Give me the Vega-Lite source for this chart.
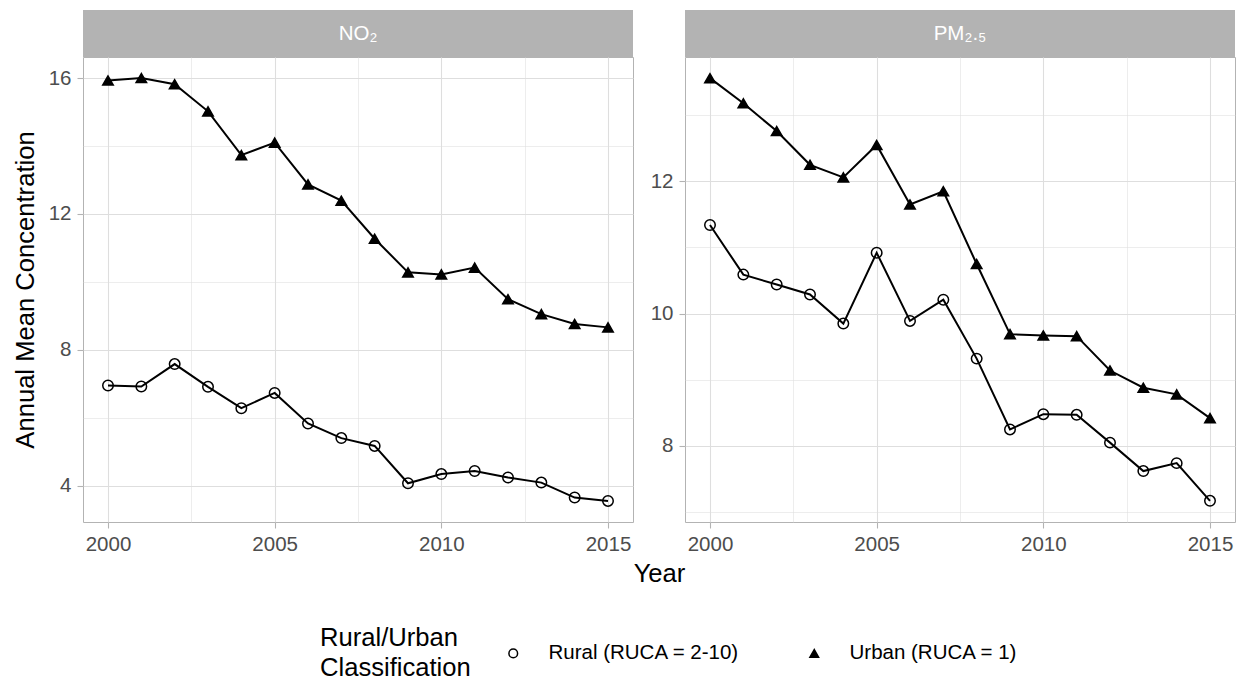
{
  "$schema": "https://vega.github.io/schema/vega-lite/v6.json",
  "background": "white",
  "padding": {"left": 12, "top": 10, "right": 5, "bottom": 5},
  "config": {
    "font": "Liberation Sans",
    "view": {"stroke": "#b3b3b3", "strokeWidth": 1},
    "axis": {
      "labelFont": "Liberation Sans",
      "labelFontSize": 20.5,
      "labelColor": "#4d4d4d",
      "titleFont": "Liberation Sans",
      "titleFontSize": 25.6,
      "titleColor": "black",
      "titleFontWeight": "normal",
      "domain": false,
      "tickColor": "#b3b3b3",
      "tickSize": 6,
      "tickWidth": 1.1,
      "gridColor": "#dedede",
      "labelPadding": 6
    },
    "legend": {
      "titleFont": "Liberation Sans",
      "labelFont": "Liberation Sans",
      "titleFontSize": 25.6,
      "titleFontWeight": "normal",
      "titleColor": "black",
      "labelFontSize": 20.5,
      "labelColor": "black",
      "labelLimit": 0,
      "titleOrient": "left",
      "direction": "horizontal",
      "symbolStrokeWidth": 1.5,
      "symbolSize": 75,
      "columnPadding": 64,
      "titlePadding": 32,
      "labelOffset": 25,
      "titleLineHeight": 30
    }
  },
  "datasets": {
    "aq": [
      {"pollutant": "NO2", "year": 2000, "group": "Urban (RUCA = 1)", "value": 15.93},
      {"pollutant": "NO2", "year": 2001, "group": "Urban (RUCA = 1)", "value": 16.0},
      {"pollutant": "NO2", "year": 2002, "group": "Urban (RUCA = 1)", "value": 15.82},
      {"pollutant": "NO2", "year": 2003, "group": "Urban (RUCA = 1)", "value": 15.02},
      {"pollutant": "NO2", "year": 2004, "group": "Urban (RUCA = 1)", "value": 13.73},
      {"pollutant": "NO2", "year": 2005, "group": "Urban (RUCA = 1)", "value": 14.1},
      {"pollutant": "NO2", "year": 2006, "group": "Urban (RUCA = 1)", "value": 12.87},
      {"pollutant": "NO2", "year": 2007, "group": "Urban (RUCA = 1)", "value": 12.39},
      {"pollutant": "NO2", "year": 2008, "group": "Urban (RUCA = 1)", "value": 11.27},
      {"pollutant": "NO2", "year": 2009, "group": "Urban (RUCA = 1)", "value": 10.28},
      {"pollutant": "NO2", "year": 2010, "group": "Urban (RUCA = 1)", "value": 10.22},
      {"pollutant": "NO2", "year": 2011, "group": "Urban (RUCA = 1)", "value": 10.42},
      {"pollutant": "NO2", "year": 2012, "group": "Urban (RUCA = 1)", "value": 9.49},
      {"pollutant": "NO2", "year": 2013, "group": "Urban (RUCA = 1)", "value": 9.05},
      {"pollutant": "NO2", "year": 2014, "group": "Urban (RUCA = 1)", "value": 8.76},
      {"pollutant": "NO2", "year": 2015, "group": "Urban (RUCA = 1)", "value": 8.66},
      {"pollutant": "NO2", "year": 2000, "group": "Rural (RUCA = 2-10)", "value": 6.95},
      {"pollutant": "NO2", "year": 2001, "group": "Rural (RUCA = 2-10)", "value": 6.92},
      {"pollutant": "NO2", "year": 2002, "group": "Rural (RUCA = 2-10)", "value": 7.58},
      {"pollutant": "NO2", "year": 2003, "group": "Rural (RUCA = 2-10)", "value": 6.91},
      {"pollutant": "NO2", "year": 2004, "group": "Rural (RUCA = 2-10)", "value": 6.28},
      {"pollutant": "NO2", "year": 2005, "group": "Rural (RUCA = 2-10)", "value": 6.73},
      {"pollutant": "NO2", "year": 2006, "group": "Rural (RUCA = 2-10)", "value": 5.83},
      {"pollutant": "NO2", "year": 2007, "group": "Rural (RUCA = 2-10)", "value": 5.4},
      {"pollutant": "NO2", "year": 2008, "group": "Rural (RUCA = 2-10)", "value": 5.17},
      {"pollutant": "NO2", "year": 2009, "group": "Rural (RUCA = 2-10)", "value": 4.07},
      {"pollutant": "NO2", "year": 2010, "group": "Rural (RUCA = 2-10)", "value": 4.34},
      {"pollutant": "NO2", "year": 2011, "group": "Rural (RUCA = 2-10)", "value": 4.43},
      {"pollutant": "NO2", "year": 2012, "group": "Rural (RUCA = 2-10)", "value": 4.24},
      {"pollutant": "NO2", "year": 2013, "group": "Rural (RUCA = 2-10)", "value": 4.09},
      {"pollutant": "NO2", "year": 2014, "group": "Rural (RUCA = 2-10)", "value": 3.65},
      {"pollutant": "NO2", "year": 2015, "group": "Rural (RUCA = 2-10)", "value": 3.55},
      {"pollutant": "PM2.5", "year": 2000, "group": "Urban (RUCA = 1)", "value": 13.56},
      {"pollutant": "PM2.5", "year": 2001, "group": "Urban (RUCA = 1)", "value": 13.18},
      {"pollutant": "PM2.5", "year": 2002, "group": "Urban (RUCA = 1)", "value": 12.76},
      {"pollutant": "PM2.5", "year": 2003, "group": "Urban (RUCA = 1)", "value": 12.25},
      {"pollutant": "PM2.5", "year": 2004, "group": "Urban (RUCA = 1)", "value": 12.06},
      {"pollutant": "PM2.5", "year": 2005, "group": "Urban (RUCA = 1)", "value": 12.55},
      {"pollutant": "PM2.5", "year": 2006, "group": "Urban (RUCA = 1)", "value": 11.65},
      {"pollutant": "PM2.5", "year": 2007, "group": "Urban (RUCA = 1)", "value": 11.85},
      {"pollutant": "PM2.5", "year": 2008, "group": "Urban (RUCA = 1)", "value": 10.75},
      {"pollutant": "PM2.5", "year": 2009, "group": "Urban (RUCA = 1)", "value": 9.69},
      {"pollutant": "PM2.5", "year": 2010, "group": "Urban (RUCA = 1)", "value": 9.67},
      {"pollutant": "PM2.5", "year": 2011, "group": "Urban (RUCA = 1)", "value": 9.66},
      {"pollutant": "PM2.5", "year": 2012, "group": "Urban (RUCA = 1)", "value": 9.14},
      {"pollutant": "PM2.5", "year": 2013, "group": "Urban (RUCA = 1)", "value": 8.88},
      {"pollutant": "PM2.5", "year": 2014, "group": "Urban (RUCA = 1)", "value": 8.78},
      {"pollutant": "PM2.5", "year": 2015, "group": "Urban (RUCA = 1)", "value": 8.42},
      {"pollutant": "PM2.5", "year": 2000, "group": "Rural (RUCA = 2-10)", "value": 11.34},
      {"pollutant": "PM2.5", "year": 2001, "group": "Rural (RUCA = 2-10)", "value": 10.59},
      {"pollutant": "PM2.5", "year": 2002, "group": "Rural (RUCA = 2-10)", "value": 10.44},
      {"pollutant": "PM2.5", "year": 2003, "group": "Rural (RUCA = 2-10)", "value": 10.29},
      {"pollutant": "PM2.5", "year": 2004, "group": "Rural (RUCA = 2-10)", "value": 9.85},
      {"pollutant": "PM2.5", "year": 2005, "group": "Rural (RUCA = 2-10)", "value": 10.92},
      {"pollutant": "PM2.5", "year": 2006, "group": "Rural (RUCA = 2-10)", "value": 9.89},
      {"pollutant": "PM2.5", "year": 2007, "group": "Rural (RUCA = 2-10)", "value": 10.21},
      {"pollutant": "PM2.5", "year": 2008, "group": "Rural (RUCA = 2-10)", "value": 9.32},
      {"pollutant": "PM2.5", "year": 2009, "group": "Rural (RUCA = 2-10)", "value": 8.25},
      {"pollutant": "PM2.5", "year": 2010, "group": "Rural (RUCA = 2-10)", "value": 8.48},
      {"pollutant": "PM2.5", "year": 2011, "group": "Rural (RUCA = 2-10)", "value": 8.47},
      {"pollutant": "PM2.5", "year": 2012, "group": "Rural (RUCA = 2-10)", "value": 8.05},
      {"pollutant": "PM2.5", "year": 2013, "group": "Rural (RUCA = 2-10)", "value": 7.62},
      {"pollutant": "PM2.5", "year": 2014, "group": "Rural (RUCA = 2-10)", "value": 7.74},
      {"pollutant": "PM2.5", "year": 2015, "group": "Rural (RUCA = 2-10)", "value": 7.17}
    ]
  },
  "columns": 2,
  "bounds": "flush",
  "spacing": {"row": 0, "column": 52},
  "resolve": {"scale": {"x": "independent", "y": "independent"}},
  "concat": [
    {
      "width": 550,
      "height": 47,
      "view": {"fill": "#b3b3b3", "stroke": null},
      "data": {"values": [{"label": "NO₂"}]},
      "mark": {"type": "text", "color": "white", "fontSize": 20.5, "font": "Liberation Sans"},
      "encoding": {"text": {"field": "label", "type": "nominal"}}
    },
    {
      "width": 550,
      "height": 47,
      "view": {"fill": "#b3b3b3", "stroke": null},
      "data": {"values": [{"label": "PM₂.₅"}]},
      "mark": {"type": "text", "color": "white", "fontSize": 20.5, "font": "Liberation Sans"},
      "encoding": {"text": {"field": "label", "type": "nominal"}}
    },
    {
      "width": 550,
      "height": 465,
      "data": {"name": "aq"},
      "transform": [{"filter": "datum.pollutant === 'NO2'"}],
      "encoding": {
        "x": {
          "field": "year", "type": "quantitative",
          "scale": {"domain": [1999.25, 2015.75], "nice": false, "zero": false},
          "axis": {
            "values": [2000, 2002.5, 2005, 2007.5, 2010, 2012.5, 2015],
            "format": "d",
            "labelExpr": "datum.value % 5 === 0 ? datum.label : ''",
            "tickOpacity": {"condition": {"test": "datum.value % 5 !== 0", "value": 0}, "value": 1},
            "gridWidth": {"condition": {"test": "datum.value % 5 === 0", "value": 1.1}, "value": 0.55},
            "title": "Year",
            "titleX": 576,
            "titleY": 59,
            "titleBaseline": "alphabetic"
          }
        },
        "y": {
          "field": "value", "type": "quantitative",
          "scale": {"domain": [2.93, 16.62], "nice": false, "zero": false},
          "axis": {
            "values": [4, 6, 8, 10, 12, 14, 16],
            "labelExpr": "datum.value % 4 === 0 ? datum.label : ''",
            "tickOpacity": {"condition": {"test": "datum.value % 4 !== 0", "value": 0}, "value": 1},
            "gridWidth": {"condition": {"test": "datum.value % 4 === 0", "value": 1.1}, "value": 0.55},
            "title": "Annual Mean Concentration",
            "titlePadding": 10
          }
        }
      },
      "layer": [
        {"mark": {"type": "line", "color": "black", "strokeWidth": 2}, "encoding": {"detail": {"field": "group", "type": "nominal"}}},
        {
          "mark": {"type": "point", "opacity": 1, "strokeWidth": 1.5, "size": 110},
          "encoding": {
            "shape": {"field": "group", "type": "nominal", "scale": {"domain": ["Rural (RUCA = 2-10)", "Urban (RUCA = 1)"], "range": ["circle", "triangle-up"]},
              "legend": {"title": ["Rural/Urban", "Classification"], "orient": "none", "legendX": 237, "legendY": 633}},
            "fill": {"field": "group", "type": "nominal", "scale": {"domain": ["Rural (RUCA = 2-10)", "Urban (RUCA = 1)"], "range": ["transparent", "black"]},
              "legend": {"title": ["Rural/Urban", "Classification"], "orient": "none", "legendX": 237, "legendY": 633}},
            "stroke": {"field": "group", "type": "nominal", "scale": {"domain": ["Rural (RUCA = 2-10)", "Urban (RUCA = 1)"], "range": ["black", "black"]},
              "legend": {"title": ["Rural/Urban", "Classification"], "orient": "none", "legendX": 237, "legendY": 633}}
          }
        }
      ]
    },
    {
      "width": 550,
      "height": 465,
      "data": {"name": "aq"},
      "transform": [{"filter": "datum.pollutant === 'PM2.5'"}],
      "encoding": {
        "x": {
          "field": "year", "type": "quantitative",
          "scale": {"domain": [1999.25, 2015.75], "nice": false, "zero": false},
          "axis": {
            "values": [2000, 2002.5, 2005, 2007.5, 2010, 2012.5, 2015],
            "format": "d",
            "labelExpr": "datum.value % 5 === 0 ? datum.label : ''",
            "tickOpacity": {"condition": {"test": "datum.value % 5 !== 0", "value": 0}, "value": 1},
            "gridWidth": {"condition": {"test": "datum.value % 5 === 0", "value": 1.1}, "value": 0.55},
            "title": null
          }
        },
        "y": {
          "field": "value", "type": "quantitative",
          "scale": {"domain": [6.85, 13.88], "nice": false, "zero": false},
          "axis": {
            "values": [7, 8, 9, 10, 11, 12, 13],
            "labelExpr": "datum.value % 2 === 0 ? datum.label : ''",
            "tickOpacity": {"condition": {"test": "datum.value % 2 !== 0", "value": 0}, "value": 1},
            "gridWidth": {"condition": {"test": "datum.value % 2 === 0", "value": 1.1}, "value": 0.55},
            "title": null
          }
        }
      },
      "layer": [
        {"mark": {"type": "line", "color": "black", "strokeWidth": 2}, "encoding": {"detail": {"field": "group", "type": "nominal"}}},
        {
          "mark": {"type": "point", "opacity": 1, "strokeWidth": 1.5, "size": 110},
          "encoding": {
            "shape": {"field": "group", "type": "nominal", "scale": {"domain": ["Rural (RUCA = 2-10)", "Urban (RUCA = 1)"], "range": ["circle", "triangle-up"]},
              "legend": {"title": ["Rural/Urban", "Classification"], "orient": "none", "legendX": 237, "legendY": 633}},
            "fill": {"field": "group", "type": "nominal", "scale": {"domain": ["Rural (RUCA = 2-10)", "Urban (RUCA = 1)"], "range": ["transparent", "black"]},
              "legend": {"title": ["Rural/Urban", "Classification"], "orient": "none", "legendX": 237, "legendY": 633}},
            "stroke": {"field": "group", "type": "nominal", "scale": {"domain": ["Rural (RUCA = 2-10)", "Urban (RUCA = 1)"], "range": ["black", "black"]},
              "legend": {"title": ["Rural/Urban", "Classification"], "orient": "none", "legendX": 237, "legendY": 633}}
          }
        }
      ]
    }
  ]
}
